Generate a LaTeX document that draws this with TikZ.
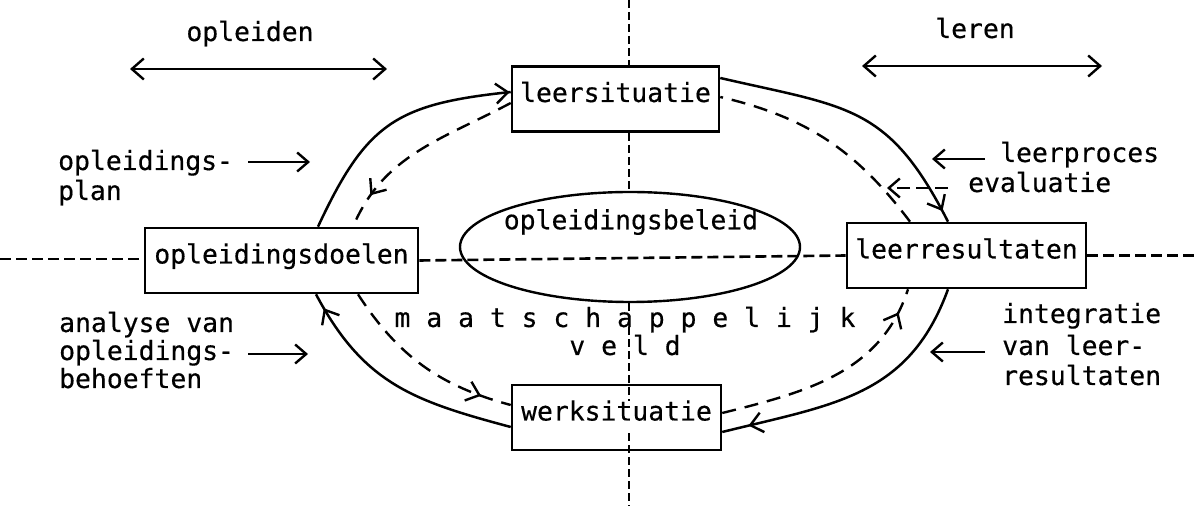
\documentclass[tikz,border=0pt]{standalone}
\usepackage{fontspec}
\newfontfamily\tw[FakeBold=0.4]{DejaVu Sans Mono}
\usetikzlibrary{arrows.meta,shapes.geometric,decorations.markings,calc}

\begin{document}
\begin{tikzpicture}[x=1pt,y=1pt,
  txt/.style={font=\tw\fontsize{26.4pt}{30pt}\selectfont, inner sep=0pt},
  stage/.style={txt, draw, line width=2.6pt, minimum width=#1, minimum height=65pt,
                text height=20pt, text depth=14pt},
  tip at/.style={postaction={decorate, decoration={markings,
        mark=at position #1 with {\draw[solid, line width=2.4pt,
            -{Straight Barb[length=12pt,width=20pt]}] (-2pt,0pt) -- (0pt,0pt);}}}},
  cycle/.style={line width=2.5pt, looseness=1.25},
  back/.style={line width=2.4pt, dash pattern=on 14pt off 9pt},
  vaxis/.style={line width=1.8pt, dash pattern=on 8pt off 4pt},
  haxis/.style={line width=2.6pt, dash pattern=on 11pt off 5pt},
  pointer/.style={line width=2.4pt, -{Straight Barb[length=11pt,width=19pt]}},
  span/.style={line width=2.4pt, {Straight Barb[length=12pt,width=21pt]}-{Straight Barb[length=12pt,width=21pt]}}
]
\useasboundingbox (0,0) rectangle (1195,506);

% the four stations of the cycle and the policy in the middle
\node[stage=207pt] (ls) at (615.5,407) {leersituatie};
\node[stage=273pt] (dl) at (281.5,245.5) {opleidingsdoelen};
\node[stage=239pt] (lr) at (966.5,250.5) {leerresultaten};
\node[stage=209pt] (ws) at (616.5,88.5) {werksituatie};
\node[draw, ellipse, line width=2.4pt, minimum width=340pt, minimum height=110pt, inner sep=0pt] (ob) at (630,259) {};
\node[txt] (obt) at (631,284) {opleidingsbeleid};

% dividing axes
\coordinate (vt) at (629,506);
\coordinate (vb) at (629,0);
\draw[vaxis] (vt) -- (vt |- ls.north);
\draw[vaxis] (vt |- ls.south) -- (vt |- ob.north);
\draw[vaxis] (vt |- ob.south) -- ($(vt |- ws.center)+(0,16)$);
\draw[vaxis] ($(vb |- ws.center)+(0,-16)$) -- (vb);

\coordinate (hl) at (0,247);
\coordinate (hr) at (1195,254);
\draw[haxis] (hl) -- (dl.west |- hl);
\draw[haxis] (dl.east) -- (lr.west);
\draw[haxis] (lr.east) -- (hr |- lr.east);

% outer cycle (solid)
\draw[cycle, tip at=-1pt] ([xshift=36.5pt]dl.north) to[out=65,in=186] ([yshift=7pt]ls.west);
\draw[cycle, tip at=-12pt] ([yshift=21pt]ls.east) to[out=-13,in=117] ([xshift=-18.5pt]lr.north);
\draw[cycle, tip at=-27pt, looseness=1.1] ([xshift=-18.5pt]lr.south) to[out=-110,in=14] ([yshift=-14.5pt]ws.east);
\draw[cycle, tip at=-16pt, looseness=1.1] ([yshift=-9.5pt]ws.west) to[out=165,in=-62] ([xshift=34.5pt]dl.south);

% inner cycle (dashed)
\draw[back, tip at=-36pt] ([yshift=-4pt]ls.west) to[out=208,in=67] ([xshift=71.5pt]dl.north);
\draw[back, tip at=-31pt] ([xshift=76.5pt]dl.south) to[out=-57,in=165] ([yshift=12.5pt]ws.west);
\draw[back, tip at=-25pt] ([yshift=4.5pt]ws.east) to[out=14,in=252] ([xshift=-58.5pt]lr.south);
\draw[back] ([xshift=-56.5pt]lr.north) to[out=127,in=-13] ([yshift=2pt]ls.east);

% headings with their spans
\node[txt, anchor=base] (op) at (250,465) {opleiden};
\coordinate (opL) at (130,437);
\coordinate (opR) at (387,437);
\draw[span] (opL) -- (opR);
\node[txt, anchor=base] (le) at (975,468) {leren};
\coordinate (leL) at (862,440);
\coordinate (leR) at (1102,440);
\draw[span] (leL) -- (leR);

% left-hand annotations
\node[txt, anchor=base west] (pl1) at (58,336) {opleidings-};
\node[txt, anchor=base west] (pl2) at (58,306) {plan};
\coordinate (plA) at (248,344);
\coordinate (plB) at (310,344);
\draw[pointer] (plA) -- (plB);

\node[txt, anchor=base west] (an1) at (59,174) {analyse van};
\node[txt, anchor=base west] (an2) at (59,146) {opleidings-};
\node[txt, anchor=base west] (an3) at (59,118) {behoeften};
\coordinate (anA) at (248,152);
\coordinate (anB) at (308,152);
\draw[pointer] (anA) -- (anB);

% right-hand annotations
\node[txt, anchor=base west] (lp1) at (1000,344) {leerproces};
\node[txt, anchor=base west] (lp2) at (968,314) {evaluatie};
\coordinate (lpA) at (985,347);
\coordinate (lpB) at (932,347);
\draw[pointer] (lpA) -- (lpB);
\coordinate (evA) at (948,318);
\coordinate (evB) at (887,318);
\draw[pointer, dash pattern=on 13pt off 6pt] (evA) -- (evB);

\node[txt, anchor=base west] (in1) at (1002,183) {integratie};
\node[txt, anchor=base west] (in2) at (1002,151) {van leer-};
\node[txt, anchor=base west] (in3) at (1002,121) {resultaten};
\coordinate (inA) at (985,154);
\coordinate (inB) at (930,154);
\draw[pointer] (inA) -- (inB);

% the social field
\node[txt, anchor=base] (mv1) at (625,179) {m a a t s c h a p p e l i j k};
\node[txt, anchor=base] (mv2) at (625,151) {v e l d};
\end{tikzpicture}
\end{document}
